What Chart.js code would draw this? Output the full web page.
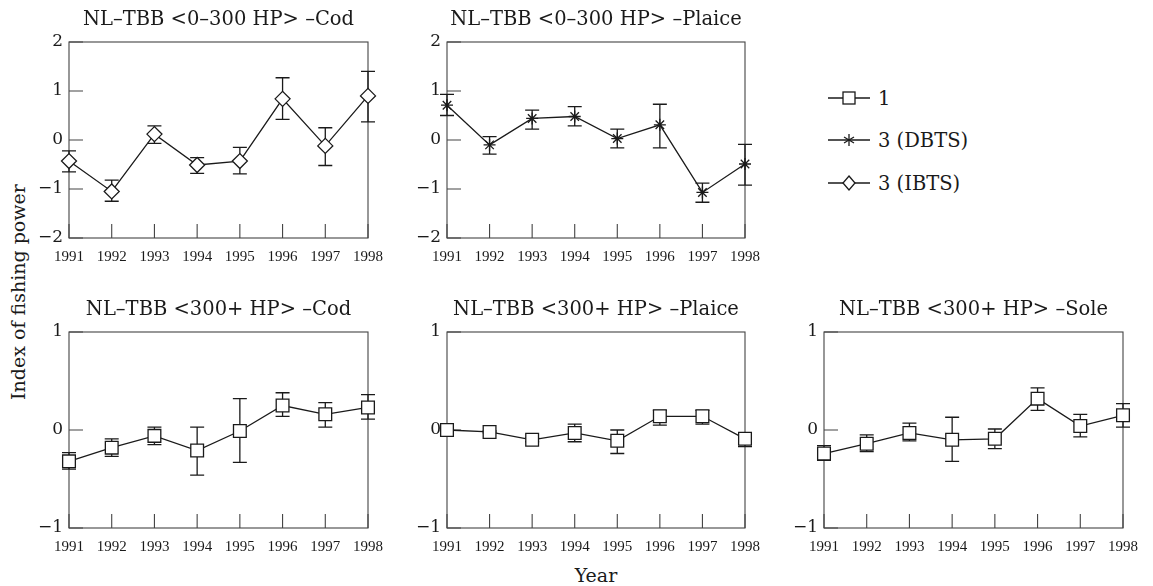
<!DOCTYPE html>
<html>
<head>
<meta charset="utf-8">
<script src="https://cdn.jsdelivr.net/npm/chart.js@4.4.0/dist/chart.umd.min.js"></script>
<style>
  body { margin: 0; background: #fff; width: 1153px; height: 586px; position: relative; overflow: hidden; font-family: "DejaVu Serif", serif; color: #1a1a1a; }
  canvas { position: absolute; }
  .txt { position: absolute; white-space: nowrap; }
  #ytitle { left: 18px; top: 292px; font-size: 19px; transform: translate(-50%, -50%) rotate(-90deg); }
  #xtitle { left: 596px; top: 575px; font-size: 19px; transform: translate(-50%, -50%); }
  .leg { position: absolute; left: 828px; font-size: 19.5px; display: flex; align-items: center; height: 22px; }
  .leg svg { margin-right: 8px; }
</style>
</head>
<body>
<div id="ytitle" class="txt">Index of fishing power</div>
<div id="xtitle" class="txt">Year</div>

<div class="leg" style="top:87px"><svg width="42" height="16"><line x1="0" y1="8" x2="42" y2="8" stroke="#1a1a1a" stroke-width="1.3"/><rect x="15" y="2" width="12" height="12" fill="#fff" stroke="#1a1a1a" stroke-width="1.3"/></svg>1</div>
<div class="leg" style="top:129px"><svg width="42" height="16"><line x1="0" y1="8" x2="42" y2="8" stroke="#1a1a1a" stroke-width="1.3"/><g stroke="#1a1a1a" stroke-width="1.3"><line x1="21" y1="2" x2="21" y2="14"/><line x1="16" y1="5" x2="26" y2="11"/><line x1="16" y1="11" x2="26" y2="5"/></g></svg>3 (DBTS)</div>
<div class="leg" style="top:172px"><svg width="42" height="16"><line x1="0" y1="8" x2="42" y2="8" stroke="#1a1a1a" stroke-width="1.3"/><polygon points="21,1 27,8 21,15 15,8" fill="#fff" stroke="#1a1a1a" stroke-width="1.3"/></svg>3 (IBTS)</div>

<script>
const years = ["1991", "1992", "1993", "1994", "1995", "1996", "1997", "1998"];

// NL-TBB <0-300 HP> Cod, survey 3 (IBTS)
const codSmall   = [-0.43, -1.05, 0.12, -0.51, -0.43, 0.84, -0.12, 0.90];
const codSmallLo = [-0.65, -1.25, -0.07, -0.68, -0.69, 0.42, -0.52, 0.37];
const codSmallHi = [-0.22, -0.82, 0.29, -0.36, -0.15, 1.27, 0.25, 1.40];

// NL-TBB <0-300 HP> Plaice, survey 3 (DBTS)
const plaiceSmall   = [0.71, -0.10, 0.44, 0.48, 0.03, 0.31, -1.07, -0.49];
const plaiceSmallLo = [0.50, -0.29, 0.22, 0.29, -0.16, -0.16, -1.27, -0.92];
const plaiceSmallHi = [0.93, 0.07, 0.61, 0.68, 0.22, 0.73, -0.88, -0.09];

// NL-TBB <300+ HP> Cod, survey 1
const codLarge   = [-0.32, -0.18, -0.06, -0.21, -0.01, 0.25, 0.16, 0.23];
const codLargeLo = [-0.40, -0.27, -0.15, -0.46, -0.33, 0.14, 0.03, 0.11];
const codLargeHi = [-0.23, -0.09, 0.03, 0.03, 0.32, 0.38, 0.28, 0.36];

// NL-TBB <300+ HP> Plaice, survey 1
const plaiceLarge   = [0.00, -0.02, -0.10, -0.03, -0.11, 0.14, 0.14, -0.09];
const plaiceLargeLo = [-0.01, -0.03, -0.12, -0.12, -0.24, 0.05, 0.06, -0.17];
const plaiceLargeHi = [0.01, -0.01, -0.08, 0.06, 0.00, 0.20, 0.20, -0.03];

// NL-TBB <300+ HP> Sole, survey 1
const soleLarge   = [-0.24, -0.14, -0.03, -0.10, -0.09, 0.32, 0.04, 0.15];
const soleLargeLo = [-0.31, -0.22, -0.11, -0.32, -0.19, 0.20, -0.07, 0.03];
const soleLargeHi = [-0.16, -0.05, 0.07, 0.13, 0.01, 0.43, 0.16, 0.27];

const INK = "#1a1a1a";
const FRAME = "#444";

// box frame, inward ticks and vertical error bars
const frameAndErrors = {
  id: "frameAndErrors",
  beforeDatasetsDraw(chart) {
    const { ctx, chartArea: a, scales: { x, y } } = chart;
    ctx.save();
    ctx.strokeStyle = FRAME;
    ctx.lineWidth = 1.1;
    ctx.strokeRect(a.left, a.top, a.width, a.height);
    ctx.beginPath();
    y.ticks.forEach((t, i) => {
      const py = y.getPixelForTick(i);
      ctx.moveTo(a.left, py); ctx.lineTo(a.left + 14, py);
    });
    x.ticks.forEach((t, i) => {
      const px = x.getPixelForTick(i);
      ctx.moveTo(px, a.bottom); ctx.lineTo(px, a.bottom - 14);
    });
    ctx.stroke();

    const ds = chart.data.datasets[0];
    ctx.strokeStyle = INK;
    ctx.lineWidth = 1.3;
    ctx.beginPath();
    ds.errLo.forEach((lo, i) => {
      const hi = ds.errHi[i];
      const px = x.getPixelForValue(i);
      const pl = y.getPixelForValue(lo), ph = y.getPixelForValue(hi);
      ctx.moveTo(px, pl); ctx.lineTo(px, ph);
      ctx.moveTo(px - 7, pl); ctx.lineTo(px + 7, pl);
      ctx.moveTo(px - 7, ph); ctx.lineTo(px + 7, ph);
    });
    ctx.stroke();
    ctx.restore();
  }
};

function fmt(v) { return v < 0 ? "\u2212" + Math.abs(v) : String(v); }

function panel(title, L, T, R, B, lim, values, lo, hi, style) {
  const c = document.createElement("canvas");
  const w = R - L + 100, h = B - T + 75;
  c.width = w; c.height = h;
  c.style.left = (L - 50) + "px"; c.style.top = (T - 40) + "px";
  c.style.width = w + "px"; c.style.height = h + "px";
  document.body.appendChild(c);

  const marker = {
    rect: { pointStyle: "rect", radius: 9 },
    star: { pointStyle: "star", radius: 6 },
    rectRot: { pointStyle: "rectRot", radius: 7.5 }
  }[style];

  new Chart(c, {
    type: "line",
    data: {
      labels: years,
      datasets: [{
        data: values,
        errLo: lo,
        errHi: hi,
        borderColor: INK,
        borderWidth: 1.3,
        pointStyle: marker.pointStyle,
        pointRadius: marker.radius,
        pointBackgroundColor: "#fff",
        pointBorderColor: INK,
        pointBorderWidth: 1.3,
        tension: 0,
        clip: false
      }]
    },
    options: {
      responsive: false,
      animation: false,
      layout: { padding: { left: 10, right: 10, top: 0, bottom: 5 } },
      plugins: {
        legend: { display: false },
        tooltip: { enabled: false },
        title: {
          display: true,
          text: title,
          color: INK,
          font: { family: "DejaVu Serif", size: 19.5, weight: "normal", lineHeight: 1.2 },
          padding: { top: 6, bottom: 10.6 }
        }
      },
      scales: {
        x: {
          grid: { display: false, drawTicks: false },
          border: { display: false },
          ticks: { color: INK, padding: 10, maxRotation: 0, autoSkip: false, font: { family: "Liberation Serif", size: 15 } },
          afterFit(s) { s.height = 30; }
        },
        y: {
          min: -lim, max: lim,
          grid: { display: false, drawTicks: false },
          border: { display: false },
          ticks: { stepSize: 1, color: INK, padding: 6, font: { family: "DejaVu Serif", size: 17 }, callback: fmt },
          afterFit(s) { s.width = 40; }
        },
        // empty right-hand axis so the plot (and its title) sits centred in the canvas
        y2: {
          position: "right",
          min: -lim, max: lim,
          grid: { display: false, drawTicks: false },
          border: { display: false },
          ticks: { display: false },
          afterFit(s) { s.width = 40; }
        }
      }
    },
    plugins: [frameAndErrors]
  });
}

panel("NL\u2013TBB <0\u2013300 HP> \u2013Cod", 69, 42, 368, 238, 2, codSmall, codSmallLo, codSmallHi, "rectRot");
panel("NL\u2013TBB <0\u2013300 HP> \u2013Plaice", 447, 42, 745, 238, 2, plaiceSmall, plaiceSmallLo, plaiceSmallHi, "star");
panel("NL\u2013TBB <300+ HP> \u2013Cod", 69, 332, 368, 528, 1, codLarge, codLargeLo, codLargeHi, "rect");
panel("NL\u2013TBB <300+ HP> \u2013Plaice", 447, 332, 745, 528, 1, plaiceLarge, plaiceLargeLo, plaiceLargeHi, "rect");
panel("NL\u2013TBB <300+ HP> \u2013Sole", 824, 332, 1123, 528, 1, soleLarge, soleLargeLo, soleLargeHi, "rect");
</script>
</body>
</html>
